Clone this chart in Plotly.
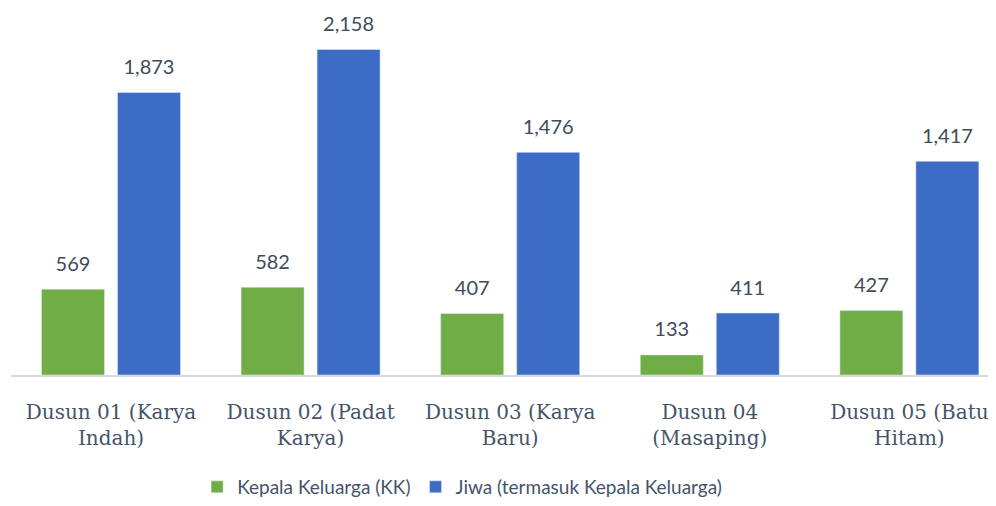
import plotly.graph_objects as go

categories = ["Dusun 01 (Karya<br>Indah)", "Dusun 02 (Padat<br>Karya)", "Dusun 03 (Karya<br>Baru)",
              "Dusun 04<br>(Masaping)", "Dusun 05 (Batu<br>Hitam)"]
kk = [569, 582, 407, 133, 427]
jiwa = [1873, 2158, 1476, 411, 1417]
series_names = ["Kepala Keluarga (KK)", "Jiwa (termasuk Kepala Keluarga)"]
colors = ["#70AD47", "#3D6CC6"]

fig = go.Figure()
for name, vals, col, grp in zip(series_names, [kk, jiwa], colors, ["a", "b"]):
    fig.add_trace(go.Bar(x=categories, y=vals, name=name, marker_color=col,
                         offsetgroup=grp, hoverinfo="skip"))
for vals, grp in zip([kk, jiwa], ["a", "b"]):
    fig.add_trace(go.Scatter(x=categories, y=vals, mode="markers+text",
                             text=[f"{v:,}" for v in vals], textposition="top center",
                             marker=dict(size=20, opacity=0), offsetgroup=grp,
                             textfont=dict(family="Lato", size=20, color="#404b5a"),
                             showlegend=False, hoverinfo="skip", cliponaxis=False))

# page body adds an 8px margin, so the figure is sized to end at the window edge
fig.update_layout(
    width=988, height=498,
    margin=dict(l=3, r=0, t=5, b=120),
    paper_bgcolor="white", plot_bgcolor="white",
    barmode="group", bargap=0.2385, bargroupgap=0.171,
    scattermode="group", scattergap=0.2385,
    showlegend=True,
    legend=dict(orientation="h", x=0.458, xanchor="center", y=-0.31, yanchor="middle",
                font=dict(family="Lato", size=19, color="#44546a"),
                traceorder="normal", itemwidth=30),
    xaxis=dict(range=[-0.501, 4.434], showline=True, linecolor="#d9d9d9", linewidth=2,
               tickfont=dict(family="DejaVu Serif", size=20, color="#44546a"),
               ticks="", showgrid=False, zeroline=False, automargin=False,
               ticklabelstandoff=18),
    yaxis=dict(range=[0, 2400], visible=False, showgrid=False, zeroline=False, automargin=False),
)
fig.write_html("out.html")
